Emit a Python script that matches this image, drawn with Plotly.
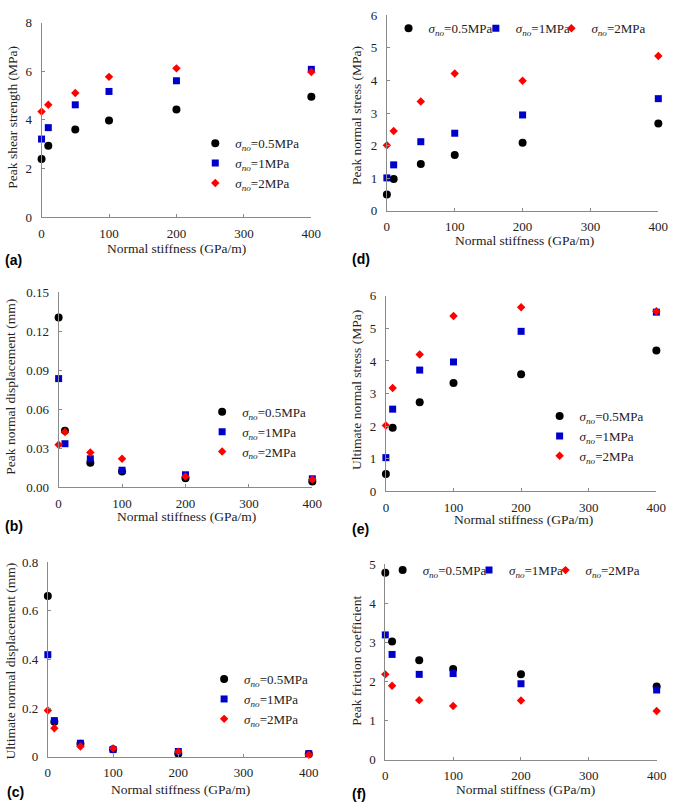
import plotly.graph_objects as go

# ---------------- data ----------------
stiffness = [0, 10, 50, 100, 200, 400]
series_labels = ["0.5MPa", "1MPa", "2MPa"]

shear_05 = [2.39, 2.93, 3.60, 3.97, 4.43, 4.95]
shear_1 = [3.21, 3.68, 4.62, 5.17, 5.61, 6.08]
shear_2 = [4.34, 4.62, 5.11, 5.77, 6.12, 5.97]

pns_05 = [0.50, 0.98, 1.44, 1.71, 2.09, 2.68]
pns_1 = [1.01, 1.41, 2.12, 2.38, 2.94, 3.44]
pns_2 = [2.01, 2.45, 3.35, 4.21, 3.99, 4.75]

pnd_05 = [0.1306, 0.0435, 0.0189, 0.0121, 0.0070, 0.0045]
pnd_1 = [0.0836, 0.0335, 0.0219, 0.0131, 0.0096, 0.0065]
pnd_2 = [0.0327, 0.0425, 0.0267, 0.0219, 0.0083, 0.0060]

uns_05 = [0.53, 1.95, 2.73, 3.32, 3.59, 4.32]
uns_1 = [1.03, 2.52, 3.72, 3.97, 4.91, 5.50]
uns_2 = [2.02, 3.17, 4.20, 5.38, 5.65, 5.53]

und_05 = [0.661, 0.144, 0.054, 0.031, 0.013, 0.012]
und_1 = [0.420, 0.149, 0.056, 0.030, 0.022, 0.013]
und_2 = [0.191, 0.118, 0.043, 0.035, 0.021, 0.009]

pfc_05 = [4.78, 3.02, 2.54, 2.32, 2.18, 1.87]
pfc_1 = [3.19, 2.69, 2.18, 2.20, 1.94, 1.78]
pfc_2 = [2.18, 1.89, 1.52, 1.37, 1.51, 1.24]

x_title = "Normal stiffness (GPa/m)"

# ---------------- layout helpers ----------------
W, H = 685, 811
def fx(p):
    return p / W
def fy(p):
    return 1 - p / H

FONT = "Liberation Serif, Times New Roman, serif"
AXC = "#8a8a8a"
TXT = "#222222"

styles = [
    dict(symbol="circle", size=8, color="#000000"),
    dict(symbol="square", size=7, color="#0000CC"),
    dict(symbol="diamond", size=6.5, color="#FF0000"),
]

# legend: "v" -> one stacked legend (text x, first-row centre y);
#         "h" -> one legend per entry (list of text x, row centre y)
panels = [
    dict(tag="(a)", ytitle="Peak shear strength (MPa)", data=[shear_05, shear_1, shear_2],
         yr=[0, 8], dt=2, fmt="", dom=(39.3, 314.3, 16, 214),
         yt=(10, 112), xt=(177, 246), lab=(0, 258),
         leg=dict(orientation="v", tx=236, cy=138)),
    dict(tag="(d)", ytitle="Peak normal stress (MPa)", data=[pns_05, pns_1, pns_2],
         yr=[0, 6], dt=1, fmt="", dom=(391.3, 668, 8.3, 207.7),
         yt=(361, 111), xt=(532, 238), lab=(354, 257),
         leg=dict(orientation="h", tx=[433, 522, 599], cy=21)),
    dict(tag="(b)", ytitle="Peak normal displacement (mm)", data=[pnd_05, pnd_1, pnd_2],
         yr=[0, 0.15], dt=0.03, fmt=".2f", dom=(56.7, 315.3, 290.7, 489.3),
         yt=(8, 387), xt=(187, 519), lab=(0, 529),
         leg=dict(orientation="v", tx=243, cy=411.7)),
    dict(tag="(e)", ytitle="Ultimate normal stress (MPa)", data=[uns_05, uns_1, uns_2],
         yr=[0, 6], dt=1, fmt="", dom=(390.3, 666, 294.3, 493.3),
         yt=(361, 390), xt=(531, 522), lab=(354, 532),
         leg=dict(orientation="v", tx=587, cy=416)),
    dict(tag="(c)", ytitle="Ultimate normal displacement (mm)", data=[und_05, und_1, und_2],
         yr=[0, 0.8], dt=0.2, fmt="", dom=(45.7, 311.7, 565.7, 764),
         yt=(8, 666), xt=(181, 797), lab=(2, 800),
         leg=dict(orientation="v", tx=245, cy=684)),
    dict(tag="(f)", ytitle="Peak friction coefficient", data=[pfc_05, pfc_1, pfc_2],
         yr=[0, 5], dt=1, fmt="", dom=(389.7, 666.3, 567.7, 766.7),
         yt=(361, 666), xt=(533, 797), lab=(354, 802),
         leg=dict(orientation="h", tx=[427, 515, 593], cy=573)),
]

LEG_TOP = 14.5  # distance from legend top to first row centre

fig = go.Figure()
annotations = []
layout = {}
leg_count = 0

def new_legend(tx, cy):
    global leg_count
    leg_count += 1
    name = "legend" if leg_count == 1 else f"legend{leg_count}"
    layout[name] = dict(
        orientation="v", x=fx(tx - 40), y=fy(cy - LEG_TOP),
        xanchor="left", yanchor="top", bgcolor="rgba(0,0,0,0)",
        font=dict(family=FONT, size=13, color=TXT), borderwidth=0,
    )
    return name

for i, p in enumerate(panels):
    n = i + 1
    xa = "x" if n == 1 else f"x{n}"
    ya = "y" if n == 1 else f"y{n}"
    lg = p["leg"]
    if lg["orientation"] == "v":
        shared = new_legend(lg["tx"], lg["cy"])
        lnames = [shared] * 3
    else:
        lnames = [new_legend(t, lg["cy"]) for t in lg["tx"]]
    for vals, st, lab, lname in zip(p["data"], styles, series_labels, lnames):
        fig.add_trace(go.Scatter(
            x=stiffness, y=vals, mode="markers", xaxis=xa, yaxis=ya,
            name=f"<i>σ</i><sub><i>no</i></sub>={lab}",
            legend=lname, cliponaxis=False,
            marker=dict(symbol=st["symbol"], size=st["size"], color=st["color"],
                        line=dict(width=0)),
        ))
    x0, x1, y0, y1 = p["dom"]
    common = dict(showgrid=False, zeroline=False, showline=True, linecolor=AXC,
                  linewidth=1, ticks="inside", ticklen=3, tickcolor=AXC,
                  tickfont=dict(family=FONT, size=13, color=TXT), mirror=False)
    layout["xaxis" if n == 1 else f"xaxis{n}"] = dict(
        domain=[fx(x0), fx(x1)], range=[0, 400], dtick=100, tick0=0,
        anchor=ya, ticklabelstandoff=4, **common)
    layout["yaxis" if n == 1 else f"yaxis{n}"] = dict(
        domain=[fy(y1), fy(y0)], range=p["yr"], dtick=p["dt"], tick0=0,
        tickformat=p["fmt"], anchor=xa, ticklabelstandoff=6, **common)
    annotations.append(dict(text=p["ytitle"], x=fx(p["yt"][0]), y=fy(p["yt"][1]),
                            xref="paper", yref="paper", textangle=-90, showarrow=False,
                            xanchor="center", yanchor="middle",
                            font=dict(family=FONT, size=13.5, color=TXT)))
    annotations.append(dict(text=x_title, x=fx(p["xt"][0]), y=fy(p["xt"][1]),
                            xref="paper", yref="paper", showarrow=False,
                            xanchor="center", yanchor="middle",
                            font=dict(family=FONT, size=13.5, color=TXT)))
    annotations.append(dict(text=f"<b>{p['tag']}</b>", x=fx(p["lab"][0]), y=fy(p["lab"][1]),
                            xref="paper", yref="paper", showarrow=False,
                            xanchor="left", yanchor="middle",
                            font=dict(family="Liberation Sans, Arial, sans-serif", size=14,
                                      color="#000000")))

fig.update_layout(
    width=W, height=H, margin=dict(l=0, r=0, t=0, b=0),
    paper_bgcolor="white", plot_bgcolor="white",
    showlegend=True, annotations=annotations, **layout,
)

# the page's default 8px body margin would push the 685x811 figure out of the window
fig.write_html("out.html", config={"displayModeBar": False},
               post_script="document.body.style.margin='0';")
